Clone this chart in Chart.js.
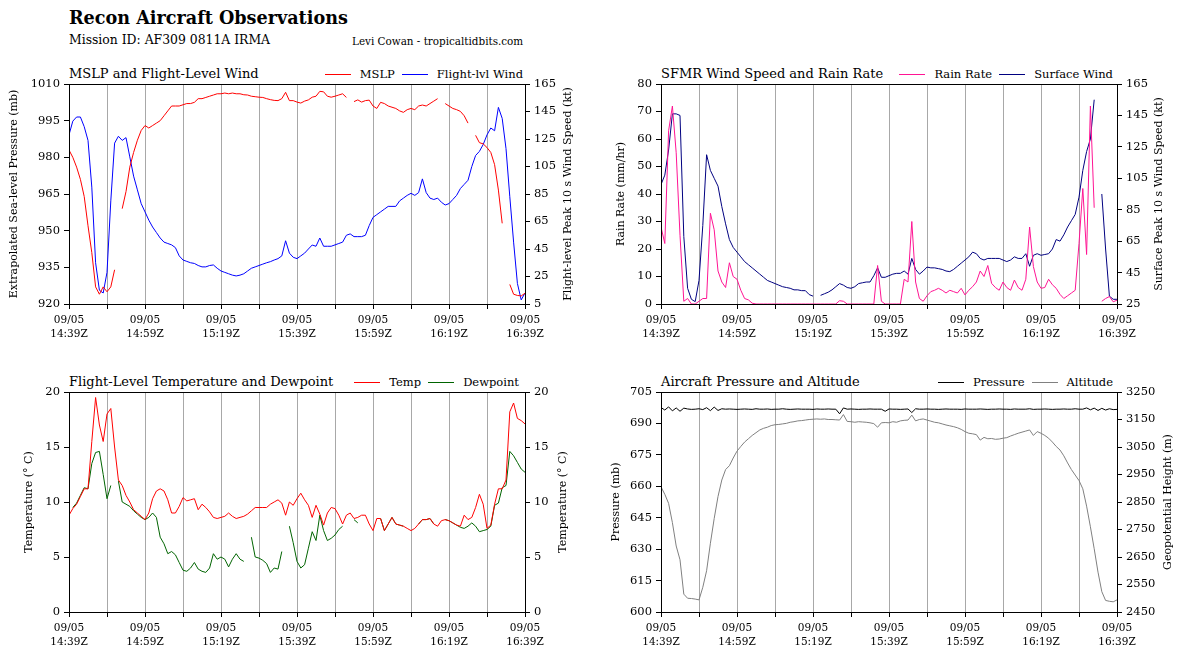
<!DOCTYPE html>
<html>
<head>
<meta charset="utf-8">
<script src="https://cdn.jsdelivr.net/npm/chart.js@4.4.0/dist/chart.umd.min.js"></script>
<style>
  body { margin: 0; width: 1184px; height: 660px; overflow: hidden; background: #fff; position: relative;
         font-family: 'DejaVu Serif', serif; color: #000; }
  .txt { position: absolute; white-space: nowrap; }
  canvas { position: absolute; }
  .legend { position: absolute; display: flex; align-items: center; font-size: 11.5px; white-space: nowrap; }
  .legend i { display: inline-block; width: 26px; height: 1px; margin-right: 9px; }
  .legend span { margin-right: 7px; }
  .legend span:last-child { margin-right: 0; }
</style>
</head>
<body>
<div class="txt" style="left:69px;top:7px;font-size:17.6px;font-weight:bold">Recon Aircraft Observations</div>
<div class="txt" style="left:69px;top:32px;font-size:12.4px">Mission ID: AF309 0811A IRMA</div>
<div class="txt" style="left:352px;top:35px;font-size:10.4px">Levi Cowan - tropicaltidbits.com</div>

<div class="txt" style="left:69px;top:66px;font-size:13px">MSLP and Flight-Level Wind</div>
<div class="legend" style="right:661px;top:67px"><i style="background:#ff0000"></i><span>MSLP</span><i style="background:#0000ff"></i><span>Flight-lvl Wind</span></div>
<div class="txt" style="left:661px;top:66px;font-size:13px">SFMR Wind Speed and Rain Rate</div>
<div class="legend" style="right:71px;top:67px"><i style="background:#ff1493"></i><span>Rain Rate</span><i style="background:#000080"></i><span>Surface Wind</span></div>
<div class="txt" style="left:69px;top:374px;font-size:13px">Flight-Level Temperature and Dewpoint</div>
<div class="legend" style="right:665px;top:375px"><i style="background:#ff0000"></i><span>Temp</span><i style="background:#006400"></i><span>Dewpoint</span></div>
<div class="txt" style="left:661px;top:374px;font-size:13px">Aircraft Pressure and Altitude</div>
<div class="legend" style="right:71px;top:375px"><i style="background:#000000"></i><span>Pressure</span><i style="background:#808080"></i><span>Altitude</span></div>

<canvas id="c1" width="600" height="280" style="left:0;top:70px"></canvas>
<canvas id="c2" width="592" height="280" style="left:592px;top:70px"></canvas>
<canvas id="c3" width="600" height="280" style="left:0;top:378px"></canvas>
<canvas id="c4" width="592" height="280" style="left:592px;top:378px"></canvas>

<script>
// minutes after 14:39Z
const minutes = [0,1,2,3,4,5,6,7,8,9,10,11,12,13,14,15,16,17,18,19,20,21,22,23,24,25,26,27,28,29,
  30,31,32,33,34,35,36,37,38,39,40,41,42,43,44,45,46,47,48,49,50,51,52,53,54,55,56,57,58,59,
  60,61,62,63,64,65,66,67,68,69,70,71,72,73,74,75,76,77,78,79,80,81,82,83,84,85,86,87,88,89,
  90,91,92,93,94,95,96,97,98,99,100,101,102,103,104,105,106,107,108,109,110,111,112,113,114,115,116,117,118,119,120];

const dateLabel = '09/05';
const timeLabels = ['14:39Z','14:59Z','15:19Z','15:39Z','15:59Z','16:19Z','16:39Z'];

// MSLP (mb)
const mslp = [983,980,976,971,964,952,941,927,924,927,
  925,927,934,null,959,966,976,982,987,991,
  993,992,993,994,995,997,999,1001,1001,1001,
  1001.5,1002,1002,1002.5,1004,1004,1004.5,1005,1005.5,1006,
  1006,1006.3,1006,1006.3,1006,1006,1005.6,1005.5,1005,1004.8,
  1004.6,1004.5,1004,1003.6,1003.3,1003.2,1004,1006.6,1003.2,1003.2,
  1002.6,1002.2,1003,1003.5,1004.6,1005,1007,1006.8,1005,1004.6,
  1005,1005.5,1006,1004.5,null,1002.8,1003.5,1002.6,1003.2,1003.4,
  1001,1000,1002.5,1002,1001,1000.5,1000,999,998.4,999.5,
  1000,999.5,1001,1001.4,1001,1002,1003,1004,null,1002,
  1001,1000,999.5,998.8,997,994,null,989,986,985.5,
  984,982,977,966.6,953,null,928,924,923.5,923.3,
  924.4];

// flight-level peak 10 s wind (kt)
const flWind = [128,138,141,141,134,124,90,35,15,13,
  28,80,122,127,124,126,112,98,88,78,
  72,66,61,57,53,50,49,48,46,40,
  37,36,35,34.5,33,32,32,33,33.4,31,
  29,28,27,26,25.4,26,27,29,31,32,
  33,34,35,35.8,37,38,40,51,42,39,
  38,40,42,45,47.9,47,53,47,47,47,
  48,49,50,55,56,54,54,54,55,62,
  68,70,72,74,76,76,76,80,82,84,
  85.5,84,86,96,86,82,81,82,79,77,
  78,81,84,89,92,95,105,113,116,121,
  128,133,131,148,140,118,83,50,20,8,
  13];

// SFMR rain rate (mm/hr)
const rainRate = [28,22,63,72,55,25,1,2,0,0,
  1,2,2,33,27,12,8,6,15,10,
  9,5,2,1.5,0.3,0,0,0,0,0,
  0,0,0,0,0,0,0,0,0,0,
  0,0,0,0,0,0,0,1.2,1,0,
  0,0,0,0,0,0,0,14,1,0,
  0,0,0,0,9,8,30,8,2,1,
  3,4.5,5,5.7,5,4,5,4.5,4,5.7,
  3.3,5,6.3,8,12,10,14,7.5,6,5,
  8,6,5,8.7,6,5,9,28,13.6,8,
  5.7,6,9,7,5.7,3.5,2,3,4,5,
  22,42,18,72,35,null,1,2,2.7,0.8,
  1.4];

// SFMR surface wind (kt)
const sfcWind = [101,107,123,146,146,145,68,35,28,26.5,
  40,75,120,110,105,100,87,76,66,61,
  58,55,52,50,48,46,44,42,40,39,
  38,37,36,35.5,35,34,34,33.5,33.5,31,
  30,null,30.5,31.5,32.5,34,36,38,37,35.5,
  35,36,38,38.5,39,39,43,48,42,42,
  43,44,44.5,44.5,46,44,54,47,44,46,
  48.5,48,48,47.5,47,46,45.6,47,49,51,
  53,55,58,57,54,53,54,54,54,54,
  53,52,53,55,54,54,57,49,56,57,
  56,56.5,57,60,66,65,69,74,78,82,
  93,110,122,130,155,null,95,60,30,28,
  28];

// flight-level temperature and dewpoint (C)
const temp = [8.8,9.4,9.8,10.5,11.2,11.2,15.5,19.5,17,15.5,
  18,18.5,15,12,11.5,10.6,10,9.3,9,8.7,
  8.4,9,10.3,11,11.2,11,10.2,9,9,9.6,
  10.4,10.1,10.2,10.3,9.3,9.8,9.5,9.1,8.6,8.5,
  8.6,8.7,9,8.7,8.5,8.6,8.7,8.9,9.2,9.5,
  9.5,9.5,9.5,9.8,10,10.2,9.9,8.8,10,9.7,
  10.3,10.8,10.2,9.7,8.6,9.7,8.9,7.9,9,9.5,
  9.4,8.8,8,8.8,9,8.5,8.6,8.8,8.8,8,
  7.4,8.5,8.5,7.4,8,8.6,8,7.9,7.8,7.6,
  7.4,7.6,8,8.4,8.4,8.5,8,7.8,8.3,8.4,
  8.3,8.1,7.9,7.8,8.8,8.4,8.6,9.5,10.7,9.8,
  7.6,7.9,9.8,11.2,11.2,12,18.2,19,17.6,17.4,
  17.1];

const dewpoint = [null,9.5,9.9,10.6,11.3,11.2,13.5,14.5,14.6,12.5,
  10.3,11.5,null,11.9,10,9.8,9.6,9.2,8.9,8.6,
  8.4,8.6,9,8.6,6.8,6.2,5.3,5.5,5.2,4.5,
  3.8,3.7,4,4.5,3.9,3.7,3.6,4,5.3,4.8,
  5,4.8,4.1,4.8,5.3,4.8,4.6,null,6.8,5,
  4.9,4.7,4.4,3.6,4,3.9,5.5,null,7.8,6.3,
  4.6,4,4.3,5.8,7.3,6.5,8.8,7.4,6.5,6.7,
  7,7.5,7.8,null,null,8.4,8.1,null,null,null,
  null,null,8.5,7.4,8,8.6,8,7.9,7.8,null,
  null,null,8,8.4,8.4,8.5,8,null,null,8.4,
  8.3,8.1,7.9,7.7,7.6,7.8,8.1,7.8,7.3,7.4,
  7.5,7.8,9.7,9.9,11.3,11.5,14.6,14.2,13.6,13,
  12.7];

// aircraft static pressure (mb) and geopotential height (m)
const acPressure = [697.6,696.4,697.9,696.0,697.4,695.8,697.3,696.9,696.7,696.8,
  697.0,696.6,697.5,696.1,697.8,696.2,697.0,696.8,696.9,696.8,
  696.7,696.8,696.9,696.8,696.7,697.0,696.8,696.8,696.9,696.7,
  696.8,696.8,697.0,696.8,696.7,696.8,696.9,696.8,696.8,696.8,
  696.7,696.9,696.8,696.8,696.9,696.8,696.8,694.6,697.4,696.8,
  696.9,696.8,696.7,696.8,696.8,696.9,696.8,696.8,696.8,695.8,
  696.9,696.8,696.8,696.7,696.8,696.9,695.2,697.0,696.8,696.8,
  696.9,696.8,696.8,696.7,696.8,696.9,696.8,696.8,696.8,696.7,
  696.9,696.8,696.8,696.8,696.9,696.8,696.7,696.8,696.8,696.9,
  696.8,696.8,696.7,696.9,696.8,696.8,696.8,697.0,696.7,696.8,
  696.8,696.9,696.8,696.7,696.8,696.8,696.9,696.8,696.8,697.0,
  696.8,696.8,697.4,696.5,697.3,696.2,697.2,696.4,697.0,696.6,
  696.7];

const altitude = [2905,2878,2845,2775,2690,2640,2515,2500,2499,2497,
  2494,2540,2600,2700,2790,2870,2930,2968,2982,3010,
  3035,3052,3068,3080,3092,3102,3112,3118,3122,3128,
  3131,3132,3134,3136,3140,3142,3145,3146,3148,3150,
  3151,3152,3151,3152,3150,3150,3149,3148,3168,3143,
  3142,3140,3142,3141,3140,3138,3135,3122,3138,3139,
  3138,3142,3140,3145,3147,3148,3166,3145,3150,3152,
  3148,3144,3140,3138,3134,3130,3127,3124,3120,3114,
  3106,3100,3098,3095,3075,3085,3080,3081,3078,3079,
  3082,3084,3090,3095,3100,3104,3108,3112,3092,3106,
  3100,3092,3082,3068,3052,3039,3018,2992,2968,2948,
  2928,2898,2835,2760,2680,2595,2524,2492,2489,2487,
  2494];

Chart.defaults.font.family = "'DejaVu Serif', serif";
Chart.defaults.color = '#000';

// box around the plot area, like matplotlib spines
const frame = {
  id: 'frame',
  afterDraw(chart) {
    const a = chart.chartArea, ctx = chart.ctx;
    ctx.save();
    ctx.strokeStyle = '#000';
    ctx.lineWidth = 1;
    ctx.strokeRect(Math.round(a.left) + 0.5, Math.round(a.top) + 0.5,
                   Math.round(a.right - a.left), Math.round(a.bottom - a.top));
    ctx.restore();
  }
};

// right-hand axis title, reading bottom to top like the left one
const rightTitle = {
  id: 'rightTitle',
  afterDraw(chart, args, opts) {
    const a = chart.chartArea, ctx = chart.ctx;
    ctx.save();
    ctx.font = "11px 'DejaVu Serif', serif";
    ctx.fillStyle = '#000';
    ctx.textAlign = 'center';
    ctx.textBaseline = 'middle';
    ctx.translate(chart.width - opts.offset, (a.top + a.bottom) / 2);
    ctx.rotate(-Math.PI / 2);
    ctx.fillText(opts.text, 0, 0);
    ctx.restore();
  }
};

function yAxis(side, ax) {
  return {
    position: side,
    min: ax.min, max: ax.max,
    afterFit: s => { s.width = ax.w; },
    ticks: { stepSize: ax.step, padding: 4, font: { size: 11.5 }, callback: v => String(v) },
    grid: { drawOnChartArea: false, color: '#000', tickLength: 5 },
    border: { display: false },
    title: { display: side === 'left', text: ax.title, font: { size: 11 }, padding: { top: ax.pad, bottom: 0 } }
  };
}

function makePanel(id, series, left, right) {
  return new Chart(document.getElementById(id), {
    type: 'line',
    data: {
      labels: minutes,
      datasets: series.map(s => ({
        label: s.label, data: s.data, yAxisID: s.axis,
        borderColor: s.color, borderWidth: 1, pointRadius: 0, tension: 0, spanGaps: false
      }))
    },
    options: {
      responsive: false,
      animation: false,
      events: [],
      layout: { padding: { top: 14 } },
      plugins: {
        legend: { display: false }, tooltip: { enabled: false },
        rightTitle: { text: right.title, offset: right.pad }
      },
      scales: {
        x: {
          type: 'linear', min: 0, max: 120,
          afterFit: s => { s.height = 46; },
          ticks: {
            stepSize: 10, autoSkip: false, maxRotation: 0, padding: 4,
            font: { size: 10.5, lineHeight: 1.35 },
            callback: v => (v % 20 === 0 ? [dateLabel, timeLabels[v / 20]] : '')
          },
          grid: {
            color: c => (c.tick && (c.tick.value === 0 || c.tick.value === 120)) ? 'rgba(0,0,0,0)' : '#a8a8a8',
            tickColor: '#000', tickLength: 5
          },
          border: { display: false }
        },
        yL: yAxis('left', left),
        yR: yAxis('right', right)
      }
    },
    plugins: [frame, rightTitle]
  });
}

makePanel('c1',
  [{ label: 'MSLP', data: mslp, axis: 'yL', color: '#ff0000' },
   { label: 'Flight-lvl Wind', data: flWind, axis: 'yR', color: '#0000ff' }],
  { min: 920, max: 1010, step: 15, w: 69, pad: 8, title: 'Extrapolated Sea-level Pressure (mb)' },
  { min: 5, max: 165, step: 20, w: 75, pad: 32, title: 'Flight-level Peak 10 s Wind Speed (kt)' });

makePanel('c2',
  [{ label: 'Rain Rate', data: rainRate, axis: 'yL', color: '#ff1493' },
   { label: 'Surface Wind', data: sfcWind, axis: 'yR', color: '#000080' }],
  { min: 0, max: 80, step: 10, w: 69, pad: 23, title: 'Rain Rate (mm/hr)' },
  { min: 25, max: 165, step: 20, w: 67, pad: 25, title: 'Surface Peak 10 s Wind Speed (kt)' });

makePanel('c3',
  [{ label: 'Temp', data: temp, axis: 'yL', color: '#ff0000' },
   { label: 'Dewpoint', data: dewpoint, axis: 'yL', color: '#006400' }],
  { min: 0, max: 20, step: 5, w: 69, pad: 23, title: 'Temperature (° C)' },
  { min: 0, max: 20, step: 5, w: 75, pad: 37, title: 'Temperature (° C)' });

makePanel('c4',
  [{ label: 'Pressure', data: acPressure, axis: 'yL', color: '#000000' },
   { label: 'Altitude', data: altitude, axis: 'yR', color: '#808080' }],
  { min: 600, max: 705, step: 15, w: 69, pad: 18, title: 'Pressure (mb)' },
  { min: 2450, max: 3250, step: 100, w: 67, pad: 16, title: 'Geopotential Height (m)' });
</script>
</body>
</html>
